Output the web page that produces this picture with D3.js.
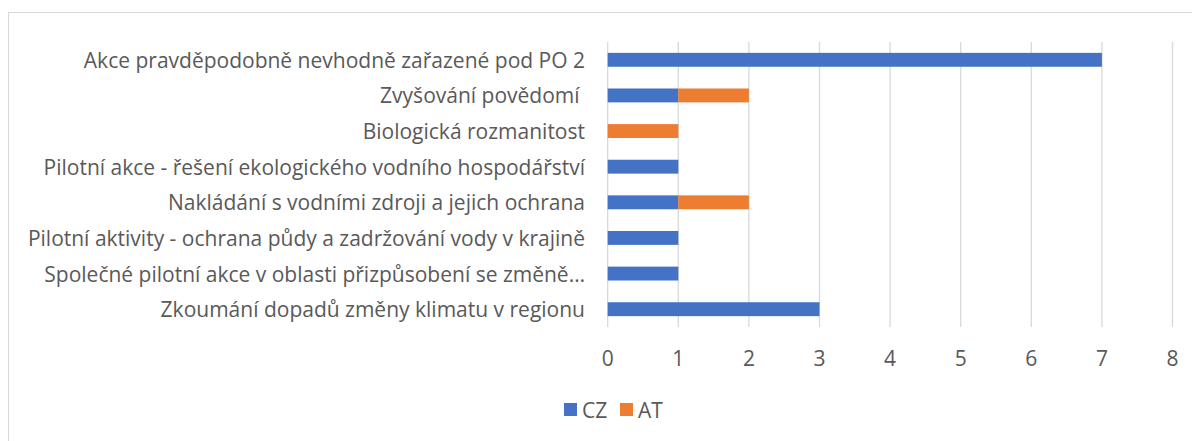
<!DOCTYPE html>
<html>
<head>
<meta charset="utf-8">
<script src="https://cdn.jsdelivr.net/npm/d3@7"></script>
<style>
  body { margin: 0; background: #fff; }
  text { font-family: "Open Sans", sans-serif; fill: #595959; white-space: pre; }
</style>
</head>
<body>
<svg id="chart" width="1192" height="441"></svg>
<script>
const categories = [
  "Akce pravděpodobně nevhodně zařazené pod PO 2",
  "Zvyšování povědomí ",
  "Biologická rozmanitost",
  "Pilotní akce - řešení ekologického vodního hospodářství",
  "Nakládání s vodními zdroji a jejich ochrana",
  "Pilotní aktivity - ochrana půdy a zadržování vody v krajině",
  "Společné pilotní akce v oblasti přizpůsobení se změně…",
  "Zkoumání dopadů změny klimatu v regionu"
];
const seriesNames = ["CZ", "AT"];
const czValues = [7, 1, 0, 1, 1, 1, 1, 3];
const atValues = [0, 1, 1, 0, 1, 0, 0, 0];
const xTicks = [0, 1, 2, 3, 4, 5, 6, 7, 8];
const colors = ["#4472C4", "#ED7D31"];

const svg = d3.select("#chart");

// outer chart border
svg.append("rect").attr("x", 8.5).attr("y", 12.5).attr("width", 1200).attr("height", 440)
  .attr("fill", "none").attr("stroke", "#d9d9d9").attr("stroke-width", 1);

const plotL = 607.7, plotR = 1172.5, plotT = 42, plotB = 327;
const x = d3.scaleLinear().domain([0, 8]).range([plotL, plotR]);
const y = d3.scaleBand().domain(categories).range([plotT, plotB]).paddingInner(0.61).paddingOuter(0.305);

// gridlines
svg.append("g").selectAll("line").data(xTicks).join("line")
  .attr("x1", d => x(d)).attr("x2", d => x(d)).attr("y1", plotT).attr("y2", plotB)
  .attr("stroke", "#d9d9d9").attr("stroke-width", 1.3);

const rows = categories.map((c, i) => ({ cat: c, CZ: czValues[i], AT: atValues[i] }));
const stack = d3.stack().keys(seriesNames)(rows);

svg.append("g").selectAll("g").data(stack).join("g")
  .attr("fill", (d, i) => colors[i])
  .selectAll("rect").data(d => d).join("rect")
  .attr("x", d => x(d[0])).attr("width", d => x(d[1]) - x(d[0]))
  .attr("y", d => y(d.data.cat)).attr("height", y.bandwidth());

// category labels
const fs = 21;
svg.append("g").selectAll("text").data(categories).join("text")
  .attr("x", 585).attr("y", d => y(d) + y.bandwidth() / 2)
  .attr("text-anchor", "end").attr("dominant-baseline", "central")
  .attr("font-size", fs).text(d => d);

// x tick labels
svg.append("g").selectAll("text").data(xTicks).join("text")
  .attr("x", d => x(d)).attr("y", 358)
  .attr("text-anchor", "middle").attr("dominant-baseline", "central")
  .attr("font-size", fs).text(d => d);

// legend
const legendX = [564, 620];
const legend = svg.append("g").selectAll("g").data(seriesNames).join("g")
  .attr("transform", (d, i) => `translate(${legendX[i]},410)`);
legend.append("rect").attr("x", 0).attr("y", -7).attr("width", 13).attr("height", 13)
  .attr("fill", (d, i) => colors[i]);
legend.append("text").attr("x", 18).attr("y", 0).attr("dominant-baseline", "central")
  .attr("font-size", fs).text(d => d);
</script>
</body>
</html>
